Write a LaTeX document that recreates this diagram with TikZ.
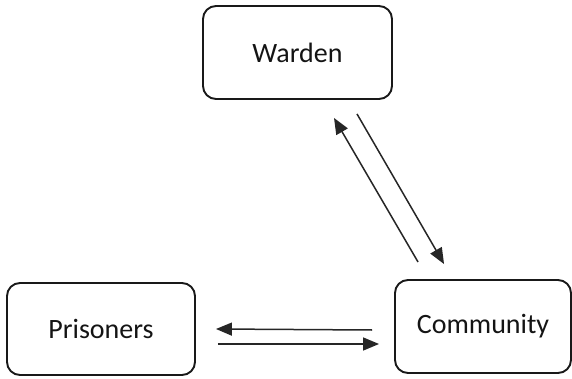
\documentclass[tikz,border=0pt]{standalone}
\usepackage{fontspec}
\setmainfont{Carlito}
\usetikzlibrary{arrows.meta,calc}
\tikzset{
  box/.style={draw=black!90, line width=1.9pt, rounded corners=13pt, inner sep=0pt,
    font=\fontsize{28}{33}\selectfont, text=black!92},
  flow/.style={draw=black!85, line width=1.5pt, -{Triangle[length=16pt,width=13pt]}}
}
\begin{document}
\begin{tikzpicture}[x=1pt,y=-1pt]
\useasboundingbox (0,0) rectangle (572,379);
\node[box, minimum width=189pt, minimum height=93pt] (warden) at (297.5,52.5) {Warden};
\node[box, minimum width=188pt, minimum height=92pt] (prisoners) at (101,329) {Prisoners};
\node[box, minimum width=176pt, minimum height=93pt] (community) at (483,326.5) {Community};
% Community -> Warden
\draw[flow] ($(community.north west)+(24,-17)$) -- ($(warden.south)+(36.5,18)$);
% Warden -> Community
\draw[flow] ($(warden.south)+(59.5,14)$) -- ($(community.north west)+(50,-15)$);
% Community -> Prisoners
\draw[flow] ($(community.west)+(-22,3.5)$) -- ($(prisoners.east)+(20,0)$);
% Prisoners -> Community
\draw[flow] ($(prisoners.east)+(22,15)$) -- ($(community.west)+(-15,17.5)$);
\end{tikzpicture}
\end{document}
